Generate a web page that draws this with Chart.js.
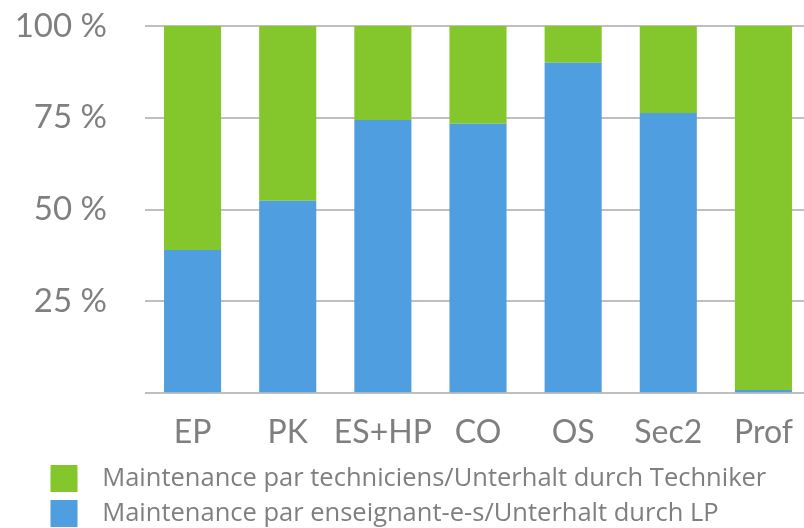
<!DOCTYPE html>
<html>
<head>
<meta charset="utf-8">
<script src="https://cdn.jsdelivr.net/npm/chart.js@4/dist/chart.umd.min.js"></script>
<style>
  html, body { margin: 0; padding: 0; overflow: hidden; background: #ffffff; }
  #wrap { width: 811px; height: 536px; position: relative; }
</style>
</head>
<body>
<div id="wrap"><canvas id="c"></canvas></div>
<script>
const categories = ['EP', 'PK', 'ES+HP', 'CO', 'OS', 'Sec2', 'Prof'];
const teacherValues = [39.0, 52.4, 74.4, 73.4, 90.0, 76.3, 0.9];
const technicianValues = [61.0, 47.6, 25.6, 26.6, 10.0, 23.7, 99.1];
const yTicks = [0, 25, 50, 75, 100];
const seriesNames = [
  'Maintenance par enseignant-e-s/Unterhalt durch LP',
  'Maintenance par techniciens/Unterhalt durch Techniker'
];

const BLUE = '#4F9FE0';
const GREEN = '#84C72C';
const TEXT = '#7F7F7F';
const GRID = '#BFBFBF';
const FONT = 'Lato, "Open Sans", sans-serif';
const LEGEND_FONT = '"Open Sans", Lato, sans-serif';

function swatch(color) {
  const cv = document.createElement('canvas');
  cv.width = 80; cv.height = 27;
  const g = cv.getContext('2d');
  g.fillStyle = color;
  g.fillRect(41, 0, 27, 27);
  return cv;
}
const swatches = [swatch(BLUE), swatch(GREEN)];

new Chart(document.getElementById('c'), {
  type: 'bar',
  data: {
    labels: categories,
    datasets: [
      { label: seriesNames[0], data: teacherValues, backgroundColor: BLUE, borderWidth: 0 },
      { label: seriesNames[1], data: technicianValues, backgroundColor: GREEN, borderWidth: 0 }
    ]
  },
  options: {
    responsive: true,
    maintainAspectRatio: false,
    animation: false,
    devicePixelRatio: 1,
    layout: { padding: { left: 0, top: 26, right: 0, bottom: 0 } },
    datasets: { bar: { barPercentage: 0.6, categoryPercentage: 1.0 } },
    scales: {
      x: {
        stacked: true,
        grid: { display: true, drawOnChartArea: false, drawTicks: true, tickLength: 20, tickColor: 'rgba(0,0,0,0)' },
        border: { display: false },
        ticks: { color: TEXT, font: { family: FONT, size: 32 }, padding: 0, maxRotation: 0, autoSkip: false },
        afterFit: (s) => { s.height = 62.7; }
      },
      y: {
        stacked: true,
        min: 0,
        max: 100,
        afterBuildTicks: (s) => { s.ticks = yTicks.map(v => ({ value: v })); },
        grid: { color: GRID, lineWidth: 2, drawTicks: true, tickLength: 38, tickColor: 'rgba(0,0,0,0)' },
        border: { display: false },
        ticks: {
          color: TEXT,
          font: { family: FONT, size: 33 },
          padding: 0,
          callback: (v) => v === 0 ? '' : v + ' %'
        },
        afterFit: (s) => { s.width = 145; }
      }
    },
    plugins: {
      tooltip: { enabled: false },
      legend: {
        position: 'bottom',
        align: 'start',
        reverse: true,
        labels: {
          color: TEXT,
          font: { family: LEGEND_FONT, size: 25.5 },
          usePointStyle: true,
          pointStyleWidth: 80,
          padding: 9.5,
          generateLabels: (chart) => {
            const items = Chart.defaults.plugins.legend.labels.generateLabels(chart);
            items.forEach(it => { it.pointStyle = swatches[it.datasetIndex]; });
            return items;
          }
        }
      }
    }
  }
});
</script>
</body>
</html>
